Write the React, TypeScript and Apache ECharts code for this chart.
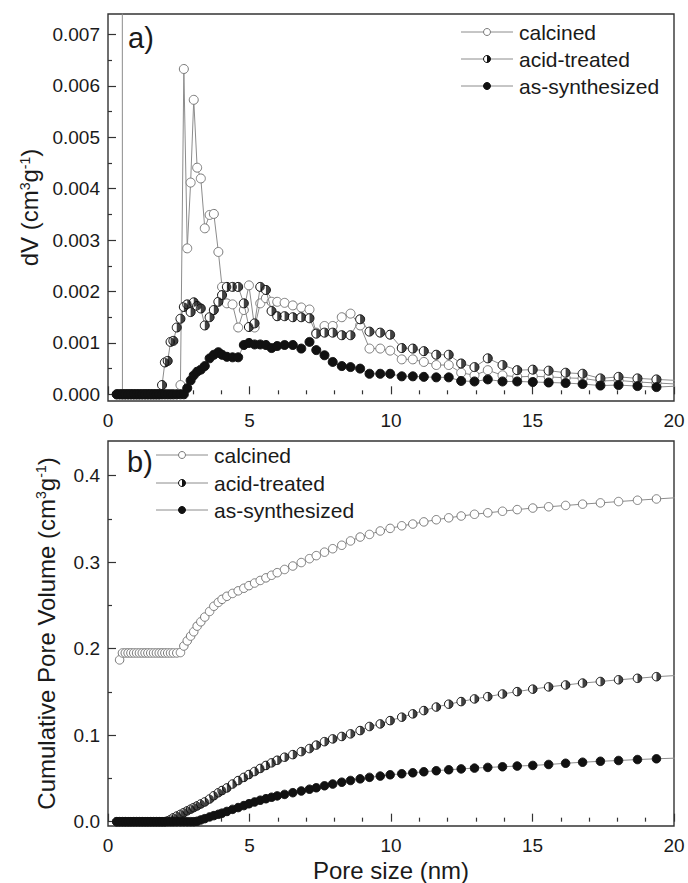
import React, { useEffect, useRef } from 'react';
import * as echarts from 'echarts';

const FONT = "'Liberation Sans', Arial, Helvetica, sans-serif";

// Pore size grid (nm), shared by all curves
const X = [
  0.31, 0.41, 0.51, 0.61, 0.71, 0.81, 0.91, 1.01, 1.11, 1.21,
  1.31, 1.41, 1.51, 1.61, 1.71, 1.81, 1.91, 2.01, 2.11, 2.21,
  2.31, 2.43, 2.56, 2.68, 2.80, 2.92, 3.03, 3.15, 3.28, 3.42,
  3.59, 3.74, 3.90, 4.03, 4.20, 4.40, 4.60, 4.80, 4.98, 5.18,
  5.38, 5.58, 5.78, 5.98, 6.24, 6.53, 6.83, 7.12, 7.36, 7.65,
  7.94, 8.26, 8.57, 8.91, 9.24, 9.62, 9.97, 10.38, 10.77, 11.16,
  11.60, 12.04, 12.48, 12.95, 13.42, 13.94, 14.46, 15.01, 15.57, 16.17,
  16.77, 17.40, 18.04, 18.71, 19.38, 20.10,
];

// Panel a) dV (cm3/g)
const dvCalcined = [
  null, 0.185, 0, 0, 0, 0, 0, 0, 0, 0,
  0, 0, 0, 0, 0, 0, 0, 0, 0, 0,
  0, 0, 0.00018, 0.00633, 0.00284, 0.00412, 0.00573, 0.00441, 0.0042, 0.00323,
  0.00349, 0.00351, 0.00277, 0.00209, 0.00177, 0.00175, 0.0013, 0.00164, 0.00212, 0.0013,
  0.00177, 0.00187, 0.0018, 0.0018, 0.00178, 0.00173, 0.00169, 0.00165, 0.0012, 0.00133,
  0.00133, 0.0015, 0.00157, 0.00134, 0.00089, 0.00089, 0.00085, 0.00068, 0.00068, 0.00063,
  0.00057, 0.00057, 0.00042, 0.00037, 0.00047, 0.00037, 0.00034, 0.00035, 0.00034, 0.00032,
  0.00031, 0.00026, 0.00027, 0.00024, 0.00022, 0.0002,
];
const dvAcid = [
  0, 0, 0, 0, 0, 0, 0, 0, 0, 0,
  0, 0, 0, 0, 0, 0, 0.00018, 0.00062, 0.00065, 0.00102,
  0.00104, 0.0013, 0.00147, 0.0017, 0.00175, 0.0016, 0.00179, 0.00172, 0.00167, 0.00134,
  0.0015, 0.00164, 0.0018, 0.00193, 0.00209, 0.00209, 0.00209, 0.00177, 0.00131, 0.00138,
  0.00209, 0.00203, 0.00162, 0.00152, 0.00152, 0.0015, 0.0015, 0.00148, 0.00118, 0.0012,
  0.0012, 0.00115, 0.00115, 0.00146, 0.00122, 0.0012, 0.00116, 0.0009, 0.00089, 0.00084,
  0.00077, 0.00077, 0.0006, 0.00053, 0.0007, 0.00057, 0.00047, 0.00048, 0.00046, 0.00042,
  0.0004, 0.00031, 0.00034, 0.00031, 0.00029, 0.00027,
];
const dvAsSynth = [
  0, 0, 0, 0, 0, 0, 0, 0, 0, 0,
  0, 0, 0, 0, 0, 0, 0, 0, 0, 0,
  0, 0, 0, 0, 0.00012, 0.00027, 0.00037, 0.00044, 0.00048, 0.00055,
  0.0007, 0.00077, 0.00082, 0.00077, 0.00073, 0.00072, 0.00072, 0.00096, 0.001, 0.00097,
  0.00097, 0.00096, 0.0009, 0.00094, 0.00096, 0.00096, 0.00089, 0.00102, 0.00086, 0.00076,
  0.00063, 0.00055, 0.00053, 0.0005, 0.0004, 0.0004, 0.0004, 0.00035, 0.00035, 0.00034,
  0.00033, 0.00033, 0.00026, 0.00025, 0.00029, 0.00025, 0.00025, 0.00024, 0.00023, 0.00022,
  0.0002, 0.00017, 0.00018, 0.00016, 0.00014, 0.00016,
];

// Panel b) cumulative pore volume (cm3/g)
const cumCalcined = [
  null, 0.187, 0.195, 0.195, 0.195, 0.195, 0.195, 0.195, 0.195, 0.195,
  0.195, 0.195, 0.195, 0.195, 0.195, 0.195, 0.195, 0.195, 0.195, 0.195,
  0.195, 0.195, 0.1955, 0.203, 0.209, 0.2145, 0.2195, 0.226, 0.231, 0.2365,
  0.243, 0.249, 0.2535, 0.257, 0.2605, 0.2638, 0.2668, 0.2698, 0.2728, 0.2758,
  0.2788, 0.2818, 0.2848, 0.2878, 0.2915, 0.2955, 0.2995, 0.304, 0.3075, 0.3115,
  0.3155, 0.3195, 0.3245, 0.329, 0.332, 0.336, 0.339, 0.342, 0.344, 0.3465,
  0.349, 0.3512, 0.3533, 0.3553, 0.357, 0.3588, 0.3607, 0.3625, 0.364, 0.3655,
  0.367, 0.3685, 0.37, 0.3715, 0.373, 0.3745,
];
const cumAcid = [
  0, 0, 0, 0, 0, 0, 0, 0, 0, 0,
  0, 0, 0, 0, 0, 0, 0, 0, 0.001, 0.0025,
  0.0045, 0.0065, 0.0085, 0.0105, 0.0125, 0.0145, 0.0163, 0.0182, 0.0205, 0.0228,
  0.0262, 0.03, 0.0335, 0.036, 0.039, 0.0435, 0.0475, 0.0512, 0.0545, 0.058,
  0.0615, 0.065, 0.068, 0.071, 0.0745, 0.0775, 0.081, 0.0845, 0.0885, 0.0925,
  0.0957, 0.0985, 0.1015, 0.1053, 0.11, 0.113, 0.1168, 0.1208, 0.1246, 0.1284,
  0.1325, 0.1358, 0.1388, 0.1419, 0.1445, 0.1476, 0.1503, 0.1532, 0.1558, 0.158,
  0.1602, 0.162, 0.164, 0.1657, 0.1676, 0.169,
];
const cumAsSynth = [
  0, 0, 0, 0, 0, 0, 0, 0, 0, 0,
  0, 0, 0, 0, 0, 0, 0, 0, 0, 0,
  0, 0, 0, 0, 0, 0, 0, 0.0005, 0.002, 0.0035,
  0.0055, 0.007, 0.0085, 0.0098, 0.0118, 0.0142, 0.0163, 0.0186, 0.0207, 0.0228,
  0.0248, 0.0265, 0.0282, 0.0298, 0.0315, 0.0335, 0.0355, 0.0375, 0.0392, 0.0415,
  0.0435, 0.0456, 0.0476, 0.0495, 0.0512, 0.0527, 0.0542, 0.0554, 0.0565, 0.0577,
  0.0589, 0.06, 0.061, 0.0619, 0.0627, 0.0635, 0.0643, 0.065, 0.0661, 0.0675,
  0.0687, 0.0698, 0.0707, 0.0718, 0.0727, 0.0735,
];

const SERIES_NAMES = ['calcined', 'acid-treated', 'as-synthesized'];
const TOP_TICKS = [0, 0.001, 0.002, 0.003, 0.004, 0.005, 0.006, 0.007];
const TOP_MINOR = [0.0005, 0.0015, 0.0025, 0.0035, 0.0045, 0.0055, 0.0065];
const BOT_TICKS = [0, 0.1, 0.2, 0.3, 0.4];
const BOT_MINOR = [0.05, 0.15, 0.25, 0.35];

const pairs = (ys: (number | null)[]) =>
  X.map((x, i) => [x, ys[i]]).filter((p) => p[1] !== null);

const AX = '#333';
const TXT = '#1a1a1a';
const LINE = '#8c8c8c';
const HALF = 'path://M0 0 A10 10 0 0 1 0 20 Z';

const xAxisBase = (gridIndex: number) => ({
  type: 'value',
  gridIndex,
  min: 0,
  max: 20,
  interval: 5,
  axisLine: { show: false },
  axisTick: { show: true, inside: true, length: 8, lineStyle: { color: AX, width: 1.2 } },
  minorTick: { show: true, splitNumber: 5, length: 4, lineStyle: { color: AX, width: 1.2 } },
  splitLine: { show: false },
  minorSplitLine: { show: false },
  axisLabel: { fontFamily: FONT, fontSize: 19, color: TXT, margin: 10 },
});

const richName = {
  a: { fontFamily: FONT, fontSize: 24, color: TXT },
  b: { fontFamily: FONT, fontSize: 14, color: TXT, verticalAlign: 'top' },
};

const yMajor = (gridIndex: number, min: number, max: number, ticks: number[], digits: number, name: string, gap: number) => ({
  type: 'value',
  gridIndex,
  position: 'left',
  min,
  max,
  name,
  nameLocation: 'middle',
  nameGap: gap,
  nameTextStyle: { fontFamily: FONT, fontSize: 24, color: TXT, rich: richName },
  axisLine: { show: false },
  axisTick: { show: true, inside: true, length: 8, customValues: ticks, lineStyle: { color: AX, width: 1.2 } },
  axisLabel: {
    fontFamily: FONT, fontSize: 19, color: TXT, margin: 8,
    customValues: ticks,
    formatter: (v: number) => v.toFixed(digits),
  },
  splitLine: { show: false },
});

const yMinor = (gridIndex: number, min: number, max: number, ticks: number[]) => ({
  type: 'value',
  gridIndex,
  position: 'left',
  min,
  max,
  axisLine: { show: false },
  axisTick: { show: true, inside: true, length: 4, customValues: ticks, lineStyle: { color: AX, width: 1.2 } },
  axisLabel: { show: false },
  splitLine: { show: false },
});

const panelSeries = (xi: number, yi: number, c: any[], a: any[], s: any[], size: number) => {
  const common = {
    type: 'line',
    xAxisIndex: xi,
    yAxisIndex: yi,
    symbol: 'circle',
    symbolSize: size,
    showAllSymbol: true,
    silent: true,
    lineStyle: { color: LINE, width: 1 },
  };
  return [
    { ...common, name: SERIES_NAMES[0], data: pairs(c), z: 2, itemStyle: { color: '#fff', borderColor: '#7a7a7a', borderWidth: 1 } },
    { ...common, name: SERIES_NAMES[1], data: pairs(a), z: 3, itemStyle: { color: '#fff', borderColor: '#111', borderWidth: 1 } },
    {
      type: 'scatter', xAxisIndex: xi, yAxisIndex: yi, silent: true, z: 4,
      data: pairs(a), symbol: HALF, symbolSize: [size / 2, size], symbolOffset: [size / 4, 0],
      itemStyle: { color: '#111' },
    },
    { ...common, name: SERIES_NAMES[2], data: pairs(s), z: 5, itemStyle: { color: '#111', borderColor: '#111', borderWidth: 1 } },
  ];
};

const legendGraphics = (x0: number, ys: number[]) => {
  const els: any[] = [];
  SERIES_NAMES.forEach((name, i) => {
    const y = ys[i];
    els.push({ type: 'line', shape: { x1: x0, y1: y, x2: x0 + 52, y2: y }, style: { stroke: LINE, lineWidth: 1 }, silent: true });
    const cx = x0 + 26;
    if (i === 0) {
      els.push({ type: 'circle', shape: { cx, cy: y, r: 3.5 }, style: { fill: '#fff', stroke: '#7a7a7a', lineWidth: 1 }, silent: true });
    } else if (i === 1) {
      els.push({ type: 'circle', shape: { cx, cy: y, r: 3.5 }, style: { fill: '#fff', stroke: '#111', lineWidth: 1 }, silent: true });
      els.push({ type: 'sector', shape: { cx, cy: y, r: 3.5, r0: 0, startAngle: -Math.PI / 2, endAngle: Math.PI / 2 }, style: { fill: '#111' }, silent: true });
    } else {
      els.push({ type: 'circle', shape: { cx, cy: y, r: 3.5 }, style: { fill: '#111', stroke: '#111', lineWidth: 1 }, silent: true });
    }
    els.push({
      type: 'text', x: x0 + 58, y,
      style: { text: name, fontFamily: FONT, fontSize: 21, fill: TXT, textVerticalAlign: 'middle', verticalAlign: 'middle' },
      silent: true,
    });
  });
  return els;
};

export default function App() {
  const ref = useRef<HTMLDivElement>(null);
  useEffect(() => {
    const chart = echarts.init(ref.current!, null, { renderer: 'svg' });
    const option: any = {
      animation: false,
      backgroundColor: '#fff',
      grid: [
        { left: 108, right: 14, top: 14, height: 387, show: true, borderColor: AX, borderWidth: 1.4, backgroundColor: 'transparent' },
        { left: 108, right: 14, top: 441, height: 386, show: true, borderColor: AX, borderWidth: 1.4, backgroundColor: 'transparent' },
      ],
      xAxis: [
        xAxisBase(0),
        { ...xAxisBase(1), name: 'Pore size (nm)', nameLocation: 'middle', nameGap: 32, nameTextStyle: { fontFamily: FONT, fontSize: 24, color: TXT } },
      ],
      yAxis: [
        yMajor(0, -0.00013, 0.0074, TOP_TICKS, 3, '{a|dV (cm}{b|3}{a|g}{b|-1}{a|)}', 62),
        yMinor(0, -0.00013, 0.0074, TOP_MINOR),
        yMajor(1, -0.005, 0.44, BOT_TICKS, 1, '{a|Cumulative Pore Volume (cm}{b|3}{a|g}{b|-1}{a|)}', 50),
        yMinor(1, -0.005, 0.44, BOT_MINOR),
      ],
      series: [
        ...panelSeries(0, 0, dvCalcined, dvAcid, dvAsSynth, 9),
        ...panelSeries(1, 2, cumCalcined, cumAcid, cumAsSynth, 8.5),
      ],
      graphic: [
        { type: 'text', x: 128, y: 38, style: { text: 'a)', fontFamily: FONT, fontSize: 29, fill: TXT, verticalAlign: 'middle' }, silent: true },
        { type: 'text', x: 127, y: 462, style: { text: 'b)', fontFamily: FONT, fontSize: 29, fill: TXT, verticalAlign: 'middle' }, silent: true },
        ...legendGraphics(461, [32, 59, 86]),
        ...legendGraphics(156, [455, 483, 510]),
      ],
    };
    chart.setOption(option);
    return () => chart.dispose();
  }, []);
  return <div ref={ref} style={{ position: 'absolute', left: 0, top: 0, width: 688, height: 883, background: '#fff' }} />;
}
